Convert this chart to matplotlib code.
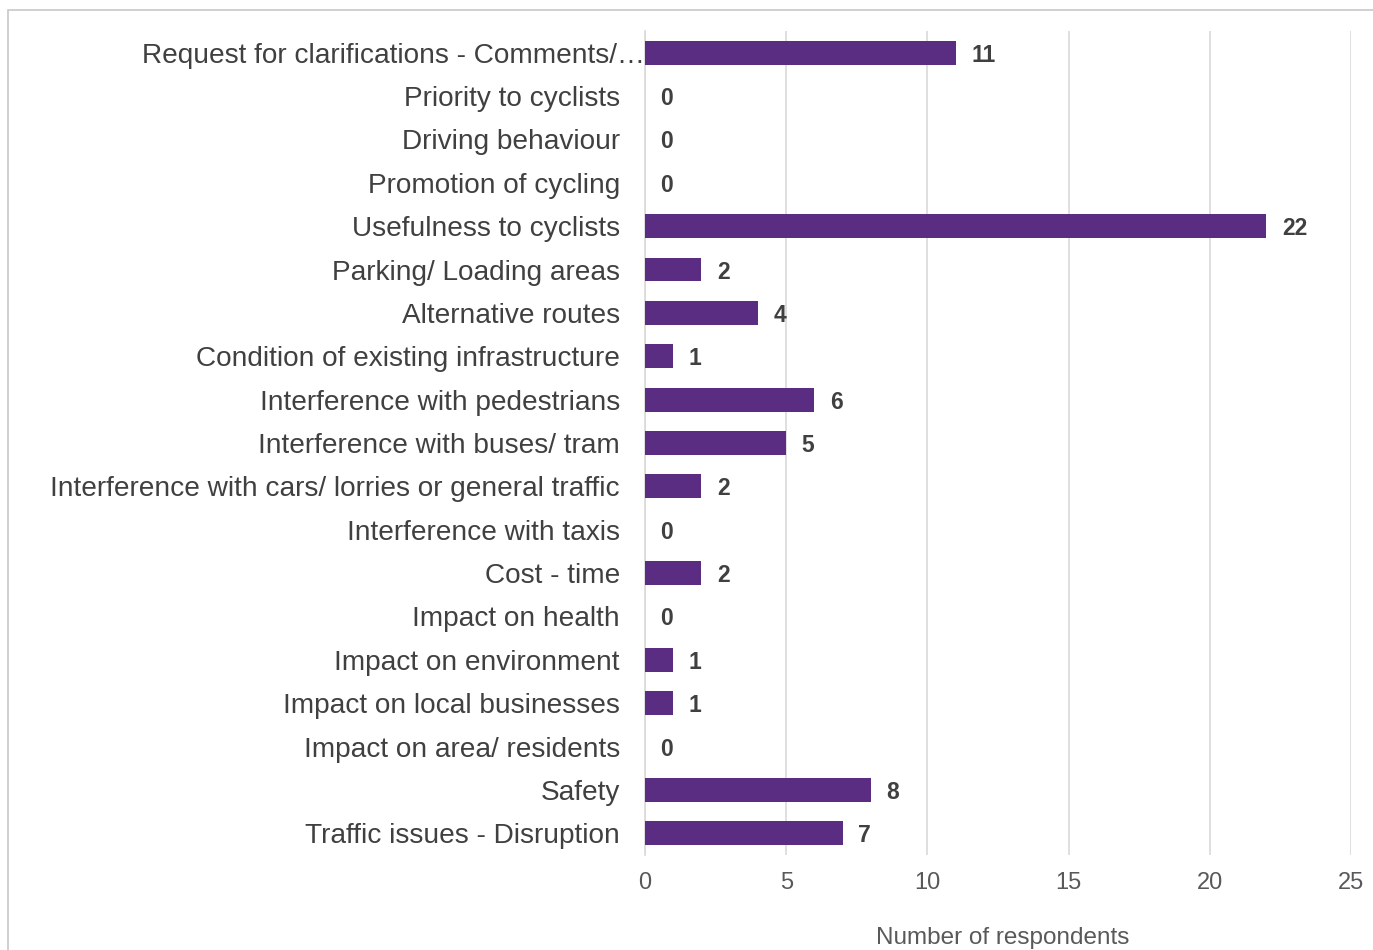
import matplotlib.pyplot as plt
from matplotlib.patches import Rectangle
from matplotlib.transforms import ScaledTranslation

categories = [
    "Request for clarifications - Comments/\u2026",
    "Priority to cyclists",
    "Driving behaviour",
    "Promotion of cycling",
    "Usefulness to cyclists",
    "Parking/ Loading areas",
    "Alternative routes",
    "Condition of existing infrastructure",
    "Interference with pedestrians",
    "Interference with buses/ tram",
    "Interference with cars/ lorries or general traffic",
    "Interference with taxis",
    "Cost - time",
    "Impact on health",
    "Impact on environment",
    "Impact on local businesses",
    "Impact on area/ residents",
    "Safety",
    "Traffic issues - Disruption",
]
respondents = [11, 0, 0, 0, 22, 2, 4, 1, 6, 5, 2, 0, 2, 0, 1, 1, 0, 8, 7]
x_ticks = [0, 5, 10, 15, 20, 25]

plt.rcParams["font.family"] = ["Liberation Sans", "DejaVu Sans"]

bar_color = "#5B2D82"
text_color = "#404040"

figure = plt.figure(figsize=(13.73, 9.5), dpi=100)
axis = figure.add_axes([645 / 1373, 1 - 855 / 950, 706 / 1373, 824 / 950])

positions = list(range(len(categories)))
axis.barh(positions, respondents, height=0.55, color=bar_color, zorder=3)

for pos, value in zip(positions, respondents):
    axis.text(
        value + 0.55,
        pos,
        str(value),
        ha="left",
        va="center_baseline",
        fontsize=16.5,
        fontweight="bold",
        color=text_color,
    )

axis.set_yticks(positions)
axis.set_yticklabels(categories, fontsize=20.2, color=text_color)
axis.set_ylim(len(categories) - 0.5, -0.5)
axis.set_xlim(0, 25)
axis.set_xticks(x_ticks)
axis.tick_params(axis="x", labelsize=17, colors="#595959", length=0, pad=12)
axis.tick_params(axis="y", length=0, pad=18)
axis.grid(axis="x", color="#d9d9d9", linewidth=1.2, zorder=0)

# truncated first label sits flush against the axis
first_label = axis.get_yticklabels()[0]
first_label.set_transform(
    first_label.get_transform()
    + ScaledTranslation(0.25, 0, figure.dpi_scale_trans)
)

for side in ["top", "right", "bottom"]:
    axis.spines[side].set_visible(False)
axis.spines["left"].set_color("#d9d9d9")
axis.spines["left"].set_linewidth(1.2)

figure.text(
    1003 / 1373,
    1 - 938 / 950,
    "Number of respondents",
    ha="center",
    va="center",
    fontsize=17.5,
    color="#595959",
)

figure.patches.append(
    Rectangle(
        (8 / 1373, -0.05),
        1.1,
        1 - 10 / 950 + 0.05,
        transform=figure.transFigure,
        fill=False,
        edgecolor="#c8c8c8",
        linewidth=1.2,
    )
)

figure.savefig("out.png", dpi=100)
